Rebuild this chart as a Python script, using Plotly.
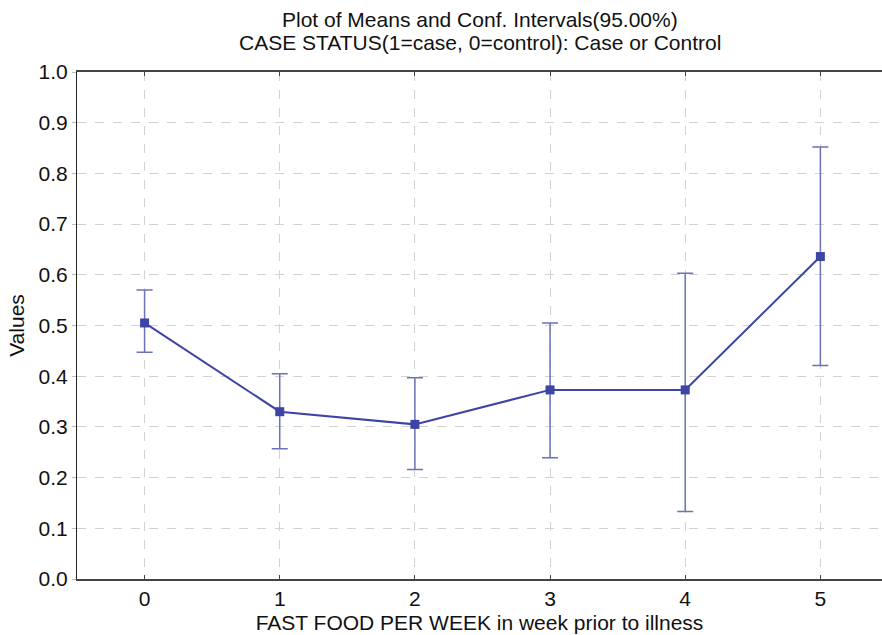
import plotly.graph_objects as go

categories = [0, 1, 2, 3, 4, 5]
means = [0.505, 0.330, 0.305, 0.373, 0.373, 0.636]
upper = [0.570, 0.405, 0.397, 0.505, 0.603, 0.852]
lower = [0.447, 0.257, 0.216, 0.239, 0.133, 0.421]
y_ticks = [0.0, 0.1, 0.2, 0.3, 0.4, 0.5, 0.6, 0.7, 0.8, 0.9, 1.0]
title_lines = ["Plot of Means and Conf. Intervals(95.00%)",
               "CASE STATUS(1=case, 0=control): Case or Control"]

err_plus = [u - m for u, m in zip(upper, means)]
err_minus = [m - l for m, l in zip(means, lower)]

FONT = "Liberation Sans, Arial, sans-serif"
FS = 21
LINE_COLOR = "#3c44a4"
ERR_COLOR = "#6a72b8"

fig = go.Figure()
fig.add_trace(go.Scatter(
    x=categories, y=means,
    mode="lines+markers",
    line=dict(color=LINE_COLOR, width=2),
    marker=dict(symbol="square", size=9, color=LINE_COLOR),
    error_y=dict(type="data", symmetric=False, array=err_plus, arrayminus=err_minus,
                 color=ERR_COLOR, thickness=1.5, width=8),
    showlegend=False,
))

for text, ypos in zip(title_lines, [1.1026, 1.0572]):
    fig.add_annotation(text=text, x=0.5, xref="paper", y=ypos, yref="paper",
                       xanchor="center", yanchor="middle", showarrow=False,
                       font=dict(family=FONT, size=FS, color="#111111"))

fig.update_layout(
    width=882, height=635,
    margin=dict(l=77, r=0, t=72, b=56),
    paper_bgcolor="white", plot_bgcolor="white",
    font=dict(family=FONT, size=FS, color="#111111"),
    xaxis=dict(
        range=[-0.5, 5.456],
        tickmode="array", tickvals=categories, ticktext=[str(c) for c in categories],
        showgrid=True, gridcolor="#d2d2d2", griddash="dash", gridwidth=1,
        showline=True, linecolor="#444444", linewidth=1.5, mirror="ticks",
        ticks="inside", ticklen=4, tickcolor="#444444",
        zeroline=False,
        title=dict(text="FAST FOOD PER WEEK in week prior to illness",
                   font=dict(family=FONT, size=FS), standoff=6),
        tickfont=dict(family=FONT, size=FS),
    ),
    yaxis=dict(
        range=[0, 1],
        tickmode="array", tickvals=y_ticks, ticktext=[f"{v:.1f}" for v in y_ticks],
        showgrid=True, gridcolor="#d2d2d2", griddash="dash", gridwidth=1,
        showline=True, linecolor="#222222", linewidth=1,
        ticks="outside", ticklen=4, tickcolor="#bbbbbb",
        zeroline=False,
        title=dict(text="Values", font=dict(family=FONT, size=FS), standoff=8),
        tickfont=dict(family=FONT, size=FS),
    ),
)

fig.write_html("out.html")
